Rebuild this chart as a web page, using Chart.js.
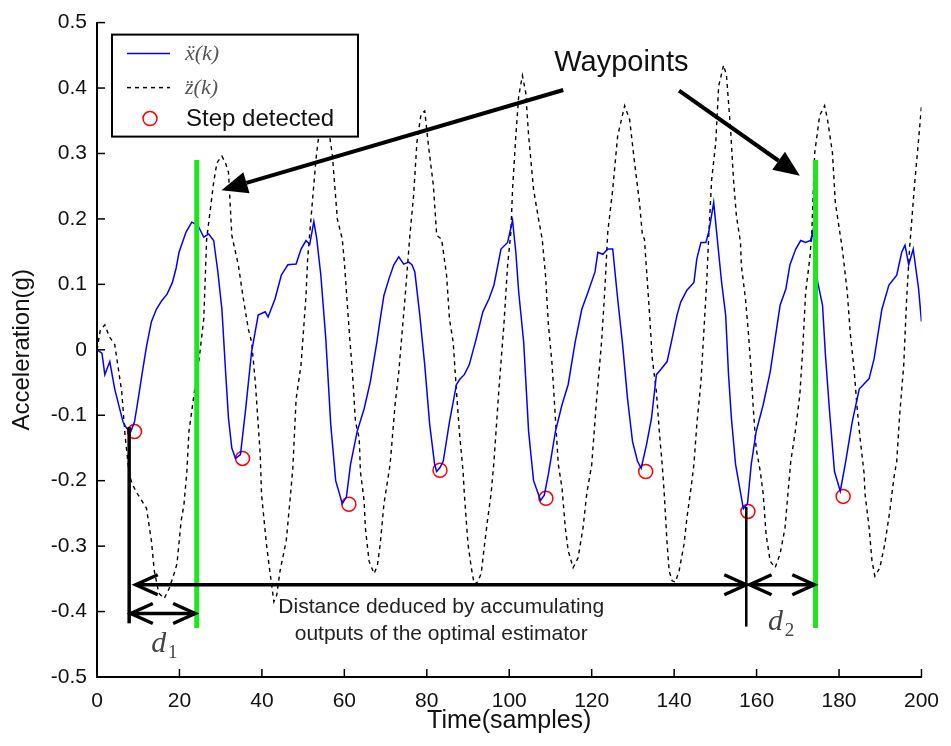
<!DOCTYPE html>
<html lang="en">
<head>
  <meta charset="UTF-8" />
  <title>Step detection - acceleration</title>
  <script src="https://cdn.jsdelivr.net/npm/chart.js"></script>
  <style>
    html, body { margin: 0; padding: 0; background: #fff; }
    #wrap { width: 951px; height: 746px; }
  </style>
</head>
<body>
  <div id="wrap"><canvas id="accChart" width="951" height="746"></canvas></div>

  <script>
    // x''(k) : horizontal acceleration
    const xkTime = [0, 1.2, 1.9, 3.1, 4.3, 5.3, 6.3, 7.2, 8.2, 9.1, 10, 11, 12, 13.2, 14.4, 15.7, 17, 18.3, 19.2, 19.9,
      21.6, 23, 24.5, 25.9, 27.1, 28.3, 29.3, 30.3, 31.2, 31.9, 32.7, 33.6, 34.8, 36, 37.5, 39.1, 40.8, 41.5, 43.2, 44.7,
      46.3, 48.3, 49.5, 50.7, 51.6, 52.6, 53.3, 54.3, 55.5, 56.7, 57.9, 59.5, 60.5, 61.5, 63.1, 64.8, 66.3, 67.9, 68.7, 69.6,
      70.8, 72, 73.2, 74.4, 75.6, 76.4, 77.1, 78.3, 79.5, 80.7, 81.9, 82.4, 83.2, 84, 85.5, 87.2, 88, 89.1, 90.3, 92,
      93.6, 95.1, 96.3, 98, 99.6, 100.8, 101.6, 102.3, 103.5, 104.7, 105.9, 107.6, 108.5, 109.5, 111.2, 112.8, 114.3, 116, 117.6, 119.1,
      120.8, 121.5, 122.7, 123.9, 125.1, 126.3, 127.5, 128.7, 129.9, 131.1, 132, 133.3, 134.5, 135.7, 136.9, 138.3, 139.5, 140.7, 141.6, 143.1,
      144.8, 145.5, 146.5, 147.7, 148.4, 149.6, 150.3, 151.5, 152.5, 153.2, 153.9, 154.9, 156.8, 157.8, 158.7, 159.9, 161.6, 163.3, 164.5, 165.7,
      167.1, 168.1, 169.5, 170.7, 171.9, 173.1, 173.6, 174.8, 176, 176.7, 177.7, 178.9, 180.3, 181.5, 183.2, 184.9, 187.3, 188.5, 190.4, 192.1,
      194, 195.2, 196, 196.9, 198, 199.3, 200];
    const xkValue = [0, -0.005, -0.038, -0.018, -0.06, -0.085, -0.11, -0.12, -0.125, -0.11, -0.075, -0.034, 0.005, 0.043, 0.062, 0.075, 0.085, 0.103, 0.125, 0.149,
      0.18, 0.195, 0.19, 0.172, 0.177, 0.167, 0.12, 0.062, -0.034, -0.105, -0.15, -0.166, -0.16, -0.094, -0.003, 0.053, 0.058, 0.05, 0.078, 0.114,
      0.13, 0.131, 0.154, 0.167, 0.161, 0.196, 0.17, 0.114, 0.017, -0.114, -0.2, -0.235, -0.225, -0.175, -0.125, -0.09, -0.049, 0.012, 0.047, 0.083,
      0.108, 0.13, 0.142, 0.131, 0.134, 0.13, 0.119, 0.053, -0.023, -0.114, -0.175, -0.186, -0.18, -0.17, -0.11, -0.053, -0.045, -0.038, -0.023, 0.017,
      0.058, 0.078, 0.099, 0.154, 0.164, 0.198, 0.149, 0.088, 0.012, -0.125, -0.2, -0.23, -0.222, -0.19, -0.125, -0.084, -0.053, 0.012, 0.062, 0.088,
      0.119, 0.149, 0.146, 0.154, 0.154, 0.078, 0.008, -0.075, -0.14, -0.17, -0.181, -0.145, -0.105, -0.038, -0.029, -0.018, 0.017, 0.053, 0.073, 0.091,
      0.103, 0.139, 0.164, 0.164, 0.18, 0.225, 0.18, 0.104, 0.053, -0.038, -0.105, -0.175, -0.243, -0.235, -0.175, -0.125, -0.084, -0.034, 0.017, 0.068,
      0.093, 0.13, 0.154, 0.167, 0.164, 0.167, 0.18, 0.104, 0.068, -0.008, -0.094, -0.186, -0.216, -0.175, -0.11, -0.06, -0.044, -0.014, 0.062, 0.099,
      0.114, 0.149, 0.16, 0.13, 0.154, 0.093, 0.043];

    // z''(k) : vertical acceleration
    const zkTime = [0, 0.8, 1.9, 3, 4.3, 5.2, 6, 6.8, 7.8, 8.6, 9.8, 11, 12, 13.2, 13.9, 15, 16.3, 17.5, 18.7, 19.4,
      20.4, 21.1, 21.8, 22.3, 23.5, 24.7, 25.9, 26.6, 28.3, 29.1, 30.3, 31.2, 31.9, 32.7, 34.3, 35.5, 36.7, 37.5, 38.4, 39.6,
      39.9, 41.1, 42, 42.9, 43.6, 44.4, 45.9, 46.8, 47.5, 48.3, 49.5, 50.7, 51.1, 51.9, 53.1, 53.5, 54.5, 55.8, 57.1, 58.3,
      59.5, 60, 61.2, 62, 62.7, 63.6, 63.9, 64.8, 65.1, 66, 67.2, 68, 68.7, 69.6, 71.1, 71.5, 72.3, 73.2, 74.7, 75.9,
      76.8, 77.6, 78.6, 79.5, 80.4, 81.6, 82.4, 83.6, 84.8, 85.5, 86.4, 87.2, 87.9, 88.8, 89.1, 90, 90.8, 91.5, 92.3, 93.2,
      93.9, 94.8, 95.6, 96.3, 97.5, 98.7, 99.6, 100.4, 100.8, 101.6, 102.3, 103.2, 104, 104.7, 105.9, 107.1, 108, 108.8, 109.5, 110.4,
      111.2, 111.9, 112.8, 113.6, 114.3, 115.5, 116.7, 117.9, 118.8, 120, 121.2, 122.4, 123.2, 123.9, 125.1, 126.3, 128, 129.2, 130.4, 131.6,
      132.3, 132.8, 134, 134.7, 135.7, 136.4, 137.1, 137.6, 138.3, 138.8, 139.5, 140.3, 141.2, 142.4, 143.1, 144.1, 144.8, 145.5, 146.5, 147.2,
      147.9, 148.4, 149.1, 150.1, 150.8, 152, 152.7, 153.7, 154.4, 155.1, 156.1, 156.3, 157.3, 158, 158.7, 159.2, 159.9, 160.9, 161.6, 162.3,
      163.3, 164.5, 165.7, 166.9, 167.6, 168.3, 169.5, 170.5, 171.2, 171.9, 172.9, 173.4, 174.1, 175.3, 176.5, 177.2, 178.4, 179.1, 180.3, 180.8,
      182, 182.7, 183.7, 184.4, 185.1, 186.1, 186.3, 187.3, 188, 188.7, 189.9, 191.1, 192.3, 193.3, 194, 194.7, 195.7, 196.4, 197.1, 198.3,
      199.3, 200];
    const zkValue = [0, 0.03, 0.038, 0.02, 0.008, -0.03, -0.064, -0.13, -0.19, -0.206, -0.22, -0.232, -0.242, -0.292, -0.338, -0.372, -0.38, -0.365, -0.342, -0.327,
      -0.262, -0.236, -0.186, -0.125, -0.07, -0.018, 0.047, 0.169, 0.256, 0.286, 0.296, 0.285, 0.271, 0.175, 0.129, 0.078, 0.032, 0.012, -0.049, -0.16,
      -0.22, -0.297, -0.342, -0.385, -0.375, -0.338, -0.292, -0.231, -0.181, -0.075, -0.023, 0.083, 0.139, 0.2, 0.29, 0.312, 0.36, 0.355, 0.297, 0.2,
      0.169, 0.134, 0.027, -0.038, -0.11, -0.135, -0.186, -0.231, -0.272, -0.323, -0.342, -0.33, -0.297, -0.236, -0.175, -0.145, -0.084, -0.034, 0.078, 0.175,
      0.236, 0.317, 0.36, 0.365, 0.312, 0.251, 0.175, 0.169, 0.114, 0.047, 0.012, -0.064, -0.125, -0.186, -0.22, -0.297, -0.333, -0.358, -0.355, -0.342,
      -0.303, -0.257, -0.22, -0.17, -0.06, 0.038, 0.129, 0.18, 0.245, 0.327, 0.388, 0.419, 0.393, 0.327, 0.245, 0.2, 0.169, 0.114, 0.038, -0.023,
      -0.105, -0.175, -0.211, -0.272, -0.307, -0.333, -0.318, -0.272, -0.22, -0.176, -0.075, 0.012, 0.093, 0.18, 0.245, 0.327, 0.373, 0.352, 0.286, 0.225,
      0.175, 0.169, 0.058, -0.014, -0.064, -0.125, -0.175, -0.22, -0.297, -0.338, -0.353, -0.355, -0.338, -0.297, -0.257, -0.211, -0.175, -0.114, -0.049, 0.027,
      0.104, 0.175, 0.26, 0.317, 0.403, 0.435, 0.419, 0.336, 0.26, 0.205, 0.164, 0.129, 0.078, 0.027, -0.034, -0.09, -0.151, -0.186, -0.22, -0.282,
      -0.323, -0.333, -0.312, -0.272, -0.22, -0.17, -0.12, -0.068, 0.002, 0.088, 0.139, 0.18, 0.301, 0.358, 0.373, 0.352, 0.301, 0.225, 0.175, 0.154,
      0.088, 0.027, -0.034, -0.09, -0.135, -0.19, -0.22, -0.272, -0.323, -0.346, -0.333, -0.297, -0.247, -0.196, -0.17, -0.1, -0.023, 0.078, 0.154, 0.251,
      0.321, 0.373];

    // detected steps
    const stepTime = [9.1, 35.3, 61.1, 83.2, 108.9, 133.1, 157.9, 181];
    const stepValue = [-0.125, -0.166, -0.236, -0.184, -0.227, -0.186, -0.247, -0.224];

    // waypoints (green bars) and distance markers
    const waypointTime = [24.2, 174.3];
    const waypointRange = [-0.425, 0.29];
    const startTime = 7.8;
    const lastStepTime = 157.5;

    const xTicks = [0, 20, 40, 60, 80, 100, 120, 140, 160, 180, 200];
    const yTicks = [-0.5, -0.4, -0.3, -0.2, -0.1, 0, 0.1, 0.2, 0.3, 0.4, 0.5];

    const FONT = "'Liberation Sans', Arial, sans-serif";
    const SERIF = "'Liberation Serif', 'Times New Roman', serif";

    const toPts = (ts, vs) => ts.map((t, i) => ({ x: t, y: vs[i] }));

    // helpers for annotation drawing
    function chevron(ctx, x, y, dir) {
      ctx.beginPath();
      ctx.moveTo(x - dir * 22, y - 10);
      ctx.lineTo(x, y);
      ctx.lineTo(x - dir * 22, y + 10);
      ctx.stroke();
    }

    function dblArrow(ctx, x1, x2, y) {
      ctx.beginPath();
      ctx.moveTo(x1, y);
      ctx.lineTo(x2, y);
      ctx.stroke();
      chevron(ctx, x1, y, -1);
      chevron(ctx, x2, y, 1);
    }

    function solidArrow(ctx, x1, y1, x2, y2) {
      const a = Math.atan2(y2 - y1, x2 - x1);
      const len = 26, half = 11;
      const bx = x2 - len * Math.cos(a), by = y2 - len * Math.sin(a);
      ctx.beginPath();
      ctx.moveTo(x1, y1);
      ctx.lineTo(bx, by);
      ctx.stroke();
      ctx.beginPath();
      ctx.moveTo(x2, y2);
      ctx.lineTo(bx + half * Math.sin(a), by - half * Math.cos(a));
      ctx.lineTo(bx - half * Math.sin(a), by + half * Math.cos(a));
      ctx.closePath();
      ctx.fill();
    }

    const annotations = {
      id: 'annotations',
      afterDatasetsDraw(chart) {
        const { ctx, chartArea: area, scales: { x, y } } = chart;
        ctx.save();

        // inward tick marks
        ctx.strokeStyle = '#000';
        ctx.lineWidth = 1.5;
        xTicks.forEach(t => {
          const px = x.getPixelForValue(t);
          ctx.beginPath(); ctx.moveTo(px, area.bottom); ctx.lineTo(px, area.bottom - 8); ctx.stroke();
        });
        yTicks.forEach(v => {
          const py = y.getPixelForValue(v);
          ctx.beginPath(); ctx.moveTo(area.left, py); ctx.lineTo(area.left + 8, py); ctx.stroke();
        });

        // green waypoint bars
        ctx.strokeStyle = '#1ee61e';
        ctx.lineWidth = 5;
        waypointTime.forEach(t => {
          const px = x.getPixelForValue(t);
          ctx.beginPath();
          ctx.moveTo(px, y.getPixelForValue(waypointRange[1]));
          ctx.lineTo(px, y.getPixelForValue(waypointRange[0]));
          ctx.stroke();
        });

        // vertical markers at start and last step
        ctx.strokeStyle = '#000';
        ctx.lineWidth = 3.5;
        const sx = x.getPixelForValue(startTime);
        ctx.beginPath(); ctx.moveTo(sx, y.getPixelForValue(-0.118)); ctx.lineTo(sx, y.getPixelForValue(-0.418)); ctx.stroke();
        ctx.lineWidth = 2.5;
        const lx = x.getPixelForValue(lastStepTime);
        ctx.beginPath(); ctx.moveTo(lx, y.getPixelForValue(-0.24)); ctx.lineTo(lx, y.getPixelForValue(-0.423)); ctx.stroke();

        // distance arrows
        ctx.lineWidth = 3.5;
        const yLong = y.getPixelForValue(-0.359);
        dblArrow(ctx, x.getPixelForValue(9.4), lx, yLong);
        dblArrow(ctx, x.getPixelForValue(158.3), x.getPixelForValue(174), yLong);
        dblArrow(ctx, x.getPixelForValue(8.2), x.getPixelForValue(23.8), y.getPixelForValue(-0.403));

        // waypoint pointer arrows
        ctx.fillStyle = '#000';
        ctx.lineWidth = 4;
        solidArrow(ctx, x.getPixelForValue(113.1), y.getPixelForValue(0.397), x.getPixelForValue(30.2), y.getPixelForValue(0.244));
        solidArrow(ctx, x.getPixelForValue(141.2), y.getPixelForValue(0.396), x.getPixelForValue(170.5), y.getPixelForValue(0.266));

        // texts
        ctx.fillStyle = '#111';
        ctx.textAlign = 'center';
        ctx.textBaseline = 'middle';
        ctx.font = `29px ${FONT}`;
        ctx.fillText('Waypoints', x.getPixelForValue(127.2), y.getPixelForValue(0.4385));
        ctx.fillStyle = '#222';
        ctx.font = `21px ${FONT}`;
        ctx.fillText('Distance deduced by accumulating', x.getPixelForValue(83.5), y.getPixelForValue(-0.394));
        ctx.fillText('outputs of the optimal estimator', x.getPixelForValue(83.5), y.getPixelForValue(-0.434));

        ctx.fillStyle = '#444';
        ctx.font = `italic 30px ${SERIF}`;
        ctx.fillText('d', x.getPixelForValue(15), y.getPixelForValue(-0.45));
        ctx.fillText('d', x.getPixelForValue(164.6), y.getPixelForValue(-0.416));
        ctx.font = `19px ${SERIF}`;
        ctx.fillText('1', x.getPixelForValue(15) + 14, y.getPixelForValue(-0.45) + 9);
        ctx.fillText('2', x.getPixelForValue(164.6) + 14, y.getPixelForValue(-0.416) + 9);

        // legend box (opaque, top-left of plot)
        const bx = area.left + 15, by = area.top + 12, bw = 246, bh = 102;
        ctx.fillStyle = '#fff';
        ctx.fillRect(bx, by, bw, bh);
        ctx.strokeStyle = '#000';
        ctx.lineWidth = 2;
        ctx.strokeRect(bx, by, bw, bh);

        ctx.lineWidth = 1.5;
        ctx.strokeStyle = '#0000ff';
        ctx.beginPath(); ctx.moveTo(bx + 15, by + 19); ctx.lineTo(bx + 58, by + 19); ctx.stroke();
        ctx.strokeStyle = '#000';
        ctx.setLineDash([4, 4]);
        ctx.beginPath(); ctx.moveTo(bx + 15, by + 53); ctx.lineTo(bx + 58, by + 53); ctx.stroke();
        ctx.setLineDash([]);
        ctx.strokeStyle = '#ff0000';
        ctx.beginPath(); ctx.arc(bx + 38, by + 84, 7, 0, Math.PI * 2); ctx.stroke();

        ctx.textAlign = 'left';
        ctx.fillStyle = '#555';
        ctx.font = `italic 22px ${SERIF}`;
        ctx.fillText('\u1E8D(k)', bx + 73, by + 20);
        ctx.fillText('z\u0308(k)', bx + 73, by + 54);
        ctx.fillStyle = '#111';
        ctx.font = `24px ${FONT}`;
        ctx.fillText('Step detected', bx + 74, by + 85);

        ctx.restore();
      }
    };

    const ctx = document.getElementById('accChart').getContext('2d');

    new Chart(ctx, {
      type: 'line',
      data: {
        datasets: [
          {
            label: 'x(k)',
            data: toPts(xkTime, xkValue),
            borderColor: '#0000ff',
            borderWidth: 1.5,
            pointRadius: 0,
            tension: 0
          },
          {
            label: 'z(k)',
            data: toPts(zkTime, zkValue),
            borderColor: '#000',
            borderWidth: 1.4,
            borderDash: [4, 4],
            pointRadius: 0,
            tension: 0
          },
          {
            label: 'Step detected',
            data: toPts(stepTime, stepValue),
            showLine: false,
            pointRadius: 7,
            pointBorderColor: '#ff0000',
            pointBackgroundColor: 'rgba(0,0,0,0)',
            pointBorderWidth: 1.5
          }
        ]
      },
      options: {
        responsive: false,
        animation: false,
        devicePixelRatio: 1,
        layout: { padding: { top: 22, right: 21, left: 0, bottom: 0 } },
        plugins: { legend: { display: false }, tooltip: { enabled: false } },
        scales: {
          x: {
            type: 'linear',
            min: 0,
            max: 200,
            afterBuildTicks: s => { s.ticks = xTicks.map(v => ({ value: v })); },
            afterFit: s => { s.height = 69; },
            grid: { display: false, drawTicks: false },
            border: { display: true, color: '#000', width: 2 },
            ticks: { padding: 12, color: '#111', font: { size: 21, family: FONT }, maxRotation: 0, callback: v => String(v) },
            title: { display: true, text: 'Time(samples)', color: '#111', font: { size: 25, family: FONT, lineHeight: 1 }, padding: { top: 0, bottom: 12 } }
          },
          y: {
            min: -0.5,
            max: 0.5,
            afterBuildTicks: s => { s.ticks = yTicks.map(v => ({ value: v })); },
            afterFit: s => { s.width = 97; },
            grid: { display: false, drawTicks: false },
            border: { display: true, color: '#000', width: 2 },
            ticks: { padding: 10, color: '#111', font: { size: 21, family: FONT }, callback: v => String(Math.round(v * 10) / 10) },
            title: { display: true, text: 'Acceleration(g)', color: '#111', font: { size: 24, family: FONT, lineHeight: 1 }, padding: { top: 10, bottom: 0 } }
          }
        }
      },
      plugins: [annotations]
    });
  </script>
</body>
</html>
